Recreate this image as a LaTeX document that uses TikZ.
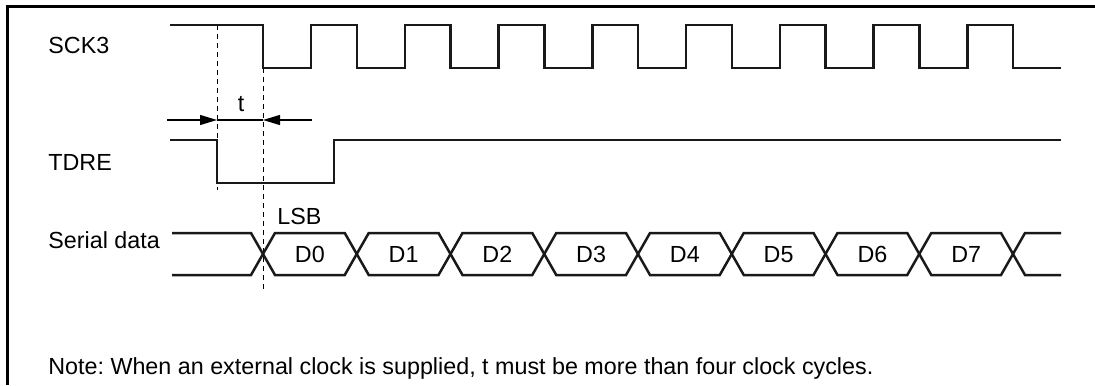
\documentclass[tikz,border=0pt]{standalone}
\usepackage{fontspec}
\setmainfont{Liberation Sans}
\usetikzlibrary{arrows.meta}
\frenchspacing

\begin{document}
\begin{tikzpicture}[x=0.5pt,y=-0.5pt,font=\fontsize{11.65}{14}\selectfont,
		sig/.style={line width=1.25pt,line join=miter,color=black!90},
		guide/.style={line width=0.5pt,dash pattern=on 2.5pt off 2pt},
		lbl/.style={anchor=base west,inner sep=0pt},
		dlbl/.style={anchor=base,inner sep=0pt},
		dim/.style={line width=0.6pt,-{Triangle[length=8.5pt,width=5pt]}}]
		\useasboundingbox (0,0) rectangle (1095,385);
		\draw[line width=1.5pt] (1095,7) -- (7,7) -- (7,385);
		\node[lbl] (sck)  at (48,54)  {SCK3};
		\node[lbl] (tdre) at (48,170) {TDRE};
		\node[lbl] (sdat) at (48,248) {Serial data};
		\node[lbl] (lsb)  at (277,224) {LSB};
		\node[dlbl] (t)   at (241,112) {t};
		\node[lbl] (note) at (48,374) {Note: When an external clock is supplied, t must be more than four clock cycles.};
		\draw[guide] (217,25) -- (217,190);
		\draw[guide] (263,68) -- (263,292);
		\coordinate (tl) at (167,120);
		\coordinate (ta) at (217,120);
		\coordinate (tb) at (263,120);
		\coordinate (tr) at (312,120);
		\draw[dim] (tl) -- (ta);
		\draw[dim] (tr) -- (tb);
		\draw[line width=0.6pt] (ta) -- (tb);
		\draw[sig] (170,25) -| (263,68) foreach \i in {0,...,7}{ -- ++(48,0) -- ++(0,-43) -- ++(45.75,0) -- ++(0,43)} -- (1061,68);
		\draw[sig] (170,140) -| (217,183) -| (334,140) -- (1061,140);
		\draw[sig] (172,233) -- (251,233) -- (263,254) -- (251,275) -- (172,275);
		\foreach \i in {0,...,7}{
			\pgfmathsetmacro\xa{263+\i*93.75}
			\pgfmathsetmacro\xb{\xa+93.75}
			\draw[sig] (\xa,254) -- (\xa+12,233) -- (\xb-12,233) -- (\xb,254) -- (\xb-12,275) -- (\xa+12,275) -- cycle;
			\node[dlbl] (d\i) at ({(\xa+\xb)/2},262) {D\i};
		}
		\draw[sig] (1061,233) -- (1025,233) -- (1013,254) -- (1025,275) -- (1061,275);
	\end{tikzpicture}
\end{document}
